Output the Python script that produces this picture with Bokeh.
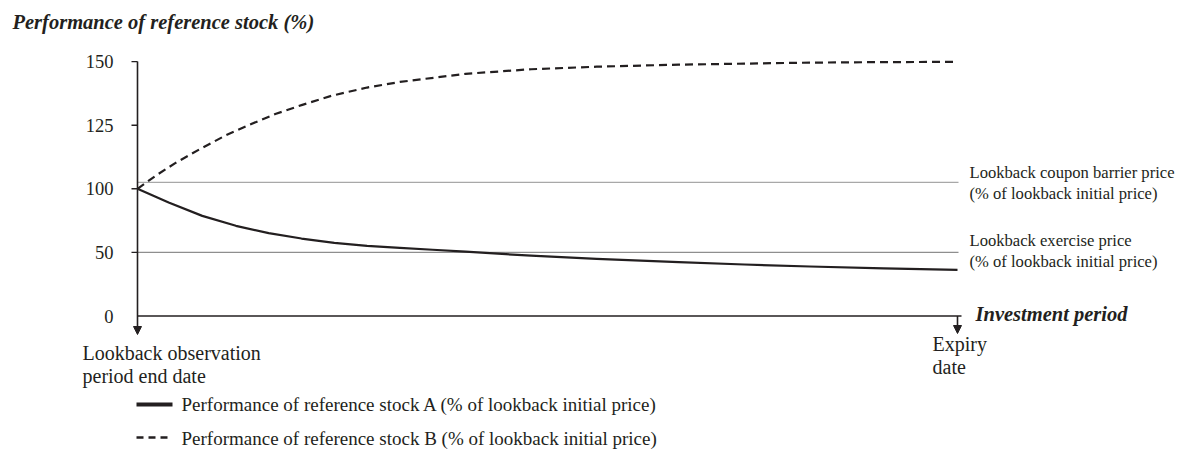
import numpy as np
from bokeh.plotting import figure
from bokeh.models import Range1d, Arrow, NormalHead
from bokeh.core.properties import value
from bokeh.embed import file_html
from bokeh.resources import INLINE

# ---------------- data ----------------
time_a = [0, 3.8, 7.9, 12, 16, 20, 24, 28, 32, 36, 40, 48, 56, 66, 74, 82, 91, 100]
stock_a = [100, 89.2, 78.7, 70.9, 65.1, 60.9, 57.5, 55.2, 53.6, 52.1, 50.6, 47.4, 44.9, 42.3, 40.5, 38.9, 37.4, 36.3]
time_b = [0, 2.2, 4.6, 7.5, 10.7, 13.6, 16.8, 20.1, 23.7, 28, 32, 40, 48, 56, 66, 74, 82, 91, 99.5]
stock_b = [100, 105.1, 110.1, 115.4, 120.9, 125.1, 129.4, 133.0, 136.6, 139.8, 142.0, 145.2, 147.0, 148.0, 148.8, 149.2, 149.6, 149.8, 149.9]
y_tick_values = [0, 50, 100, 125, 150]
y_tick_labels = ["0", "50", "100", "125", "150"]
coupon_barrier = 102.5
exercise_price = 50
period_end = 100

title_text = "Performance of reference stock (%)"
x_title_text = "Investment period"
barrier_label = ["Lookback coupon barrier price", "(% of lookback initial price)"]
exercise_label = ["Lookback exercise price", "(% of lookback initial price)"]
start_label = ["Lookback observation", "period end date"]
expiry_label = ["Expiry", "date"]
legend_labels = ["Performance of reference stock A (% of lookback initial price)",
                 "Performance of reference stock B (% of lookback initial price)"]

# ---------------- layout helpers ----------------
W, H = 1178, 450
PAGE = 0
X0_PX, PX_PER_T = 137.0, 8.2       # page px of period start, px per unit
Y0_PX, PX_PER_SLOT = 315.5, 63.6   # page px of 0 %, px per tick slot

def xd(px):
    return (px - X0_PX) / PX_PER_T

def yd(py):
    return (Y0_PX - py) / PX_PER_SLOT

tick_slots = list(range(len(y_tick_values)))

def to_slot(v):
    return np.interp(v, y_tick_values, tick_slots)

FONT = value("Liberation Serif")
INK = "#231f20"

p = figure(width=W, height=H, output_backend="svg", toolbar_location=None,
           x_range=Range1d(xd(PAGE), xd(PAGE + W)),
           y_range=Range1d(yd(PAGE + H), yd(PAGE)),
           x_axis_type=None, y_axis_type=None, min_border=0,
           outline_line_color=None, background_fill_color="white",
           border_fill_color="white")

# reference levels
p.line([0, xd(958)], [to_slot(coupon_barrier)] * 2, line_color="#a8a8a8", line_width=1.3)
p.line([0, xd(958)], [to_slot(exercise_price)] * 2, line_color="#8e8e8e", line_width=1.3)

# axes
top = to_slot(y_tick_values[-1])
p.line([0, xd(961)], [to_slot(0)] * 2, line_color=INK, line_width=1.6)
p.add_layout(Arrow(end=NormalHead(size=8, fill_color=INK, line_color=INK, line_width=1),
                   x_start=0, y_start=top, x_end=0, y_end=yd(334),
                   line_color=INK, line_width=1.6))
p.add_layout(Arrow(end=NormalHead(size=8, fill_color=INK, line_color=INK, line_width=1),
                   x_start=period_end, y_start=to_slot(0), x_end=period_end, y_end=yd(333),
                   line_color=INK, line_width=1.6))
tick_v = [v for v in y_tick_values if v > 0]
p.segment(x0=[xd(131)] * len(tick_v), y0=list(to_slot(tick_v)),
          x1=[0] * len(tick_v), y1=list(to_slot(tick_v)), line_color=INK, line_width=1.4)
p.text(x=[xd(113)] * len(y_tick_values), y=list(to_slot(y_tick_values)), text=y_tick_labels,
       text_font=FONT, text_font_size="18.5px", text_color=INK,
       text_align="right", text_baseline="middle")

# series
p.line(time_a, to_slot(stock_a), line_color=INK, line_width=2.2, line_join="round")
p.line(time_b, to_slot(stock_b), line_color=INK, line_width=2.2, line_dash="8 5")

# texts
p.text(x=[xd(12)], y=[yd(21)], text=[title_text], text_font=FONT,
       text_font_size="20.5px", text_font_style="bold italic", text_color=INK,
       text_align="left", text_baseline="middle")
p.text(x=[xd(975)], y=[yd(313)], text=[x_title_text], text_font=FONT,
       text_font_size="20.5px", text_font_style="bold italic", text_color=INK,
       text_align="left", text_baseline="middle")
p.text(x=[xd(969)] * 4, y=[yd(172), yd(193), yd(240), yd(261)],
       text=barrier_label + exercise_label, text_font=FONT, text_font_size="16.6px",
       text_color=INK, text_align="left", text_baseline="middle")
p.text(x=[xd(82)] * 2, y=[yd(352), yd(375)], text=start_label, text_font=FONT,
       text_font_size="20px", text_color=INK, text_align="left", text_baseline="middle")
p.text(x=[xd(932)] * 2, y=[yd(343), yd(366)], text=expiry_label, text_font=FONT,
       text_font_size="20px", text_color=INK, text_align="left", text_baseline="middle")

# legend
p.line([xd(136), xd(172)], [yd(404)] * 2, line_color=INK, line_width=4)
p.line([xd(136), xd(168)], [yd(437)] * 2, line_color=INK, line_width=2.4, line_dash="7 5")
p.text(x=[xd(181)] * 2, y=[yd(404), yd(438)], text=legend_labels, text_font=FONT,
       text_font_size="19px", text_color=INK, text_align="left", text_baseline="middle")

open("out.html", "w").write(file_html(p, INLINE))
